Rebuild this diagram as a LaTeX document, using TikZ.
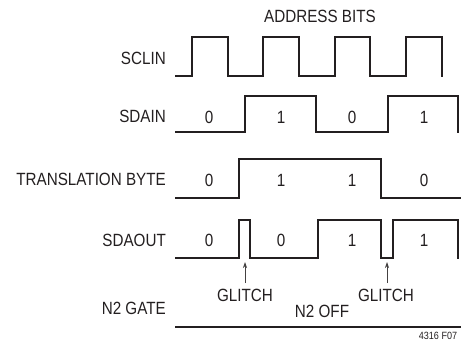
\documentclass[tikz,border=0pt]{standalone}
\usepackage{fontspec}
\setmainfont{Liberation Sans}[FakeStretch=0.86]
\usetikzlibrary{arrows.meta}
\definecolor{ink}{HTML}{231F20}
\begin{document}
\begin{tikzpicture}[x=1pt,y=-1pt,
  wave/.style={line width=2.2pt,line join=miter,color=ink},
  sig/.style={anchor=east,font=\fontsize{17.7}{17.7}\selectfont,inner sep=0pt,text=ink},
  bit/.style={font=\fontsize{17.7}{17.7}\selectfont,inner sep=0pt,text=ink},
  note/.style={font=\fontsize{17.7}{17.7}\selectfont,inner sep=0pt,text=ink},
  pointer/.style={line width=0.7pt,color=ink!85,-{Stealth[length=6pt,width=4pt]}}]
\useasboundingbox (0,0) rectangle (461,341);
% title
\node[note] (title) at (320,16.5) {ADDRESS BITS};
% signal names
\node[sig] (sclin) at (166,58.5) {SCLIN};
\node[sig] (sdain) at (166,116.5) {SDAIN};
\node[sig] (tbyte) at (166,179) {TRANSLATION BYTE};
\node[sig] (sdaout) at (166,240) {SDAOUT};
\node[sig] (n2gate) at (166,308) {N2 GATE};
% SCLIN
\draw[wave] (175,76) -- (192,76) -- (192,37) -- (228,37) -- (228,76) -- (263,76) -- (263,37)
  -- (299,37) -- (299,76) -- (335,76) -- (335,37) -- (370,37) -- (370,76) -- (406,76)
  -- (406,37) -- (442,37) -- (442,77);
% SDAIN
\draw[wave] (175,132) -- (245,132) -- (245,96) -- (316,96) -- (316,132) -- (388,132)
  -- (388,96) -- (458,96) -- (458,133);
\node[bit] (a0) at (209,117.5) {0};
\node[bit] (a1) at (281,117.5) {1};
\node[bit] (a2) at (352,117.5) {0};
\node[bit] (a3) at (424,117.5) {1};
% TRANSLATION BYTE
\draw[wave] (175,198) -- (239,198) -- (239,159) -- (381,159) -- (381,198) -- (461,198);
\node[bit] (b0) at (209,180.5) {0};
\node[bit] (b1) at (281,180.5) {1};
\node[bit] (b2) at (352,180.5) {1};
\node[bit] (b3) at (424,180.5) {0};
% SDAOUT
\draw[wave] (175,258) -- (239,258) -- (239,220) -- (250,220) -- (250,258) -- (318,258)
  -- (318,220) -- (381,220) -- (381,258) -- (393,258) -- (393,220) -- (458,220) -- (458,259);
\node[bit] (c0) at (209,240) {0};
\node[bit] (c1) at (281,240) {0};
\node[bit] (c2) at (352,240) {1};
\node[bit] (c3) at (424,240) {1};
% glitch markers
\node[note] (g1) at (245,295) {GLITCH};
\node[note] (g2) at (386,295) {GLITCH};
\coordinate (g1tip) at (245,262);
\coordinate (g2tip) at (387,262);
\coordinate (g1s) at (245,283);
\coordinate (g2s) at (387,283);
\draw[pointer] (g1s) -- (g1tip);
\draw[pointer] (g2s) -- (g2tip);
% N2 gate
\node[note] (n2off) at (322,311.5) {N2 OFF};
\draw[wave] (175,327) -- (461,327);
\node[font=\fontsize{10.5}{10.5}\selectfont,inner sep=0pt,text=ink] (fig) at (438,336.3) {4316 F07};
\end{tikzpicture}
\end{document}
